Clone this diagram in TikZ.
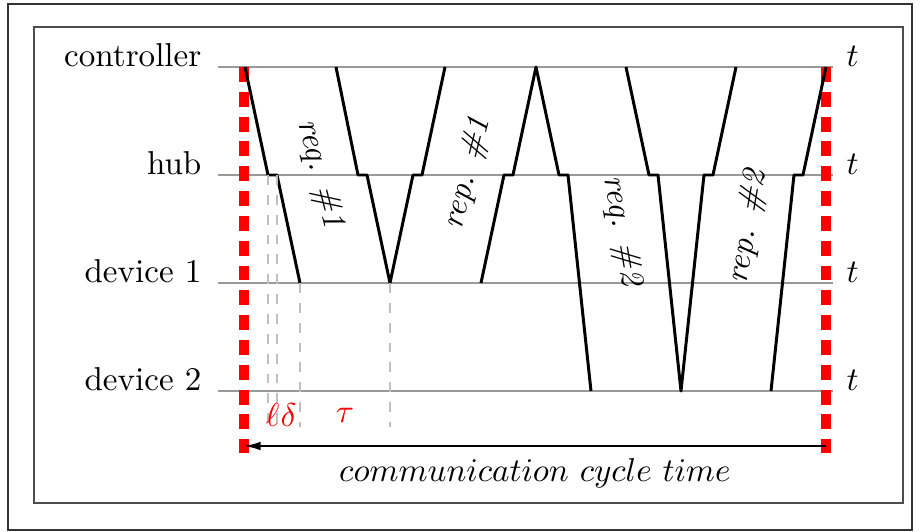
\documentclass[tikz,border=0pt]{standalone}
\usetikzlibrary{arrows.meta}
\tikzset{
  lane/.style={line width=0.6pt, color=black!40},
  msg/.style={line width=0.9pt, line join=round},
  cycleedge/.style={line width=3pt, color=red, dash pattern=on 4.5pt off 3pt},
  guide/.style={line width=0.4pt, color=black!25, dashed},
  delay/.style={color=red},
  msglabel/.style={font=\itshape},
}
\begin{document}
\begin{tikzpicture}[x=0.3022pt, y=-0.3022pt]
  \useasboundingbox (0,0) rectangle (920,532);

  %%%%% frames %%%%%
  \draw[line width=0.4pt, color=black!80] (8,4) rectangle (912,530);
  \draw[line width=0.7pt, color=black!70] (34,27) rectangle (903,503);

  %%%%% lanes %%%%%
  \draw[lane] (218,67) -- (833,67);
  \draw[lane] (218,175) -- (833,175);
  \draw[lane] (218,283) -- (833,283);
  \draw[lane] (218,391) -- (833,391);

  \node[anchor=base east] (ctrl) at (213,67) {controller};
  \node[anchor=base east] (hub) at (213,175) {hub};
  \node[anchor=base east] (dev1) at (213,283) {device 1};
  \node[anchor=base east] (dev2) at (213,391) {device 2};

  \node[anchor=base west] (tctrl) at (835,67) {$t$};
  \node[anchor=base west] (thub) at (835,175) {$t$};
  \node[anchor=base west] (tdev1) at (835,283) {$t$};
  \node[anchor=base west] (tdev2) at (835,391) {$t$};

  %%%%% cycle bounds %%%%%
  \draw[cycleedge] (244,67) -- (244,453);
  \draw[cycleedge] (826,67) -- (826,453);

  %%%%% messages %%%%%
  \draw[msg] (245,67) -- (268,175) -- (277,175) -- (300,283);
  \draw[msg] (336,67) -- (358,175) -- (367,175) -- (390,283)
             -- (413,175) -- (422,175) -- (445,67);
  \draw[msg] (481,283) -- (504,175) -- (513,175) -- (536,67)
             -- (559,175) -- (568,175) -- (591,391);
  \draw[msg] (626,67) -- (649,175) -- (658,175) -- (681,391)
             -- (704,175) -- (713,175) -- (736,67);
  \draw[msg] (771,391) -- (794,175) -- (803,175) -- (826,67);

  \node[msglabel, rotate=-75.7] (req1) at (320,174) {req. \#1};
  \node[msglabel, rotate=75.7] (rep1) at (468,173) {rep. \#1};
  \node[msglabel, rotate=-80.4] (req2) at (622,231) {req. \#2};
  \node[msglabel, rotate=80.2] (rep2) at (748,227) {rep. \#2};

  %%%%% delays %%%%%
  \draw[guide] (268,175) -- (268,427);
  \draw[guide] (277,175) -- (277,427);
  \draw[guide] (300,283) -- (300,427);
  \draw[guide] (390,283) -- (390,427);

  \node[delay] (ell) at (272.5,415) {$\ell$};
  \node[delay] (dlt) at (288.5,415) {$\delta$};
  \node[delay] (tau) at (345,415) {$\tau$};

  %%%%% cycle time %%%%%
  \draw[line width=0.6pt, {Latex[length=5pt,width=2.6pt]}-] (244,446) -- (826,446)
    node[midway, below] (cycle) {$communication\ cycle\ time$};
\end{tikzpicture}
\end{document}
